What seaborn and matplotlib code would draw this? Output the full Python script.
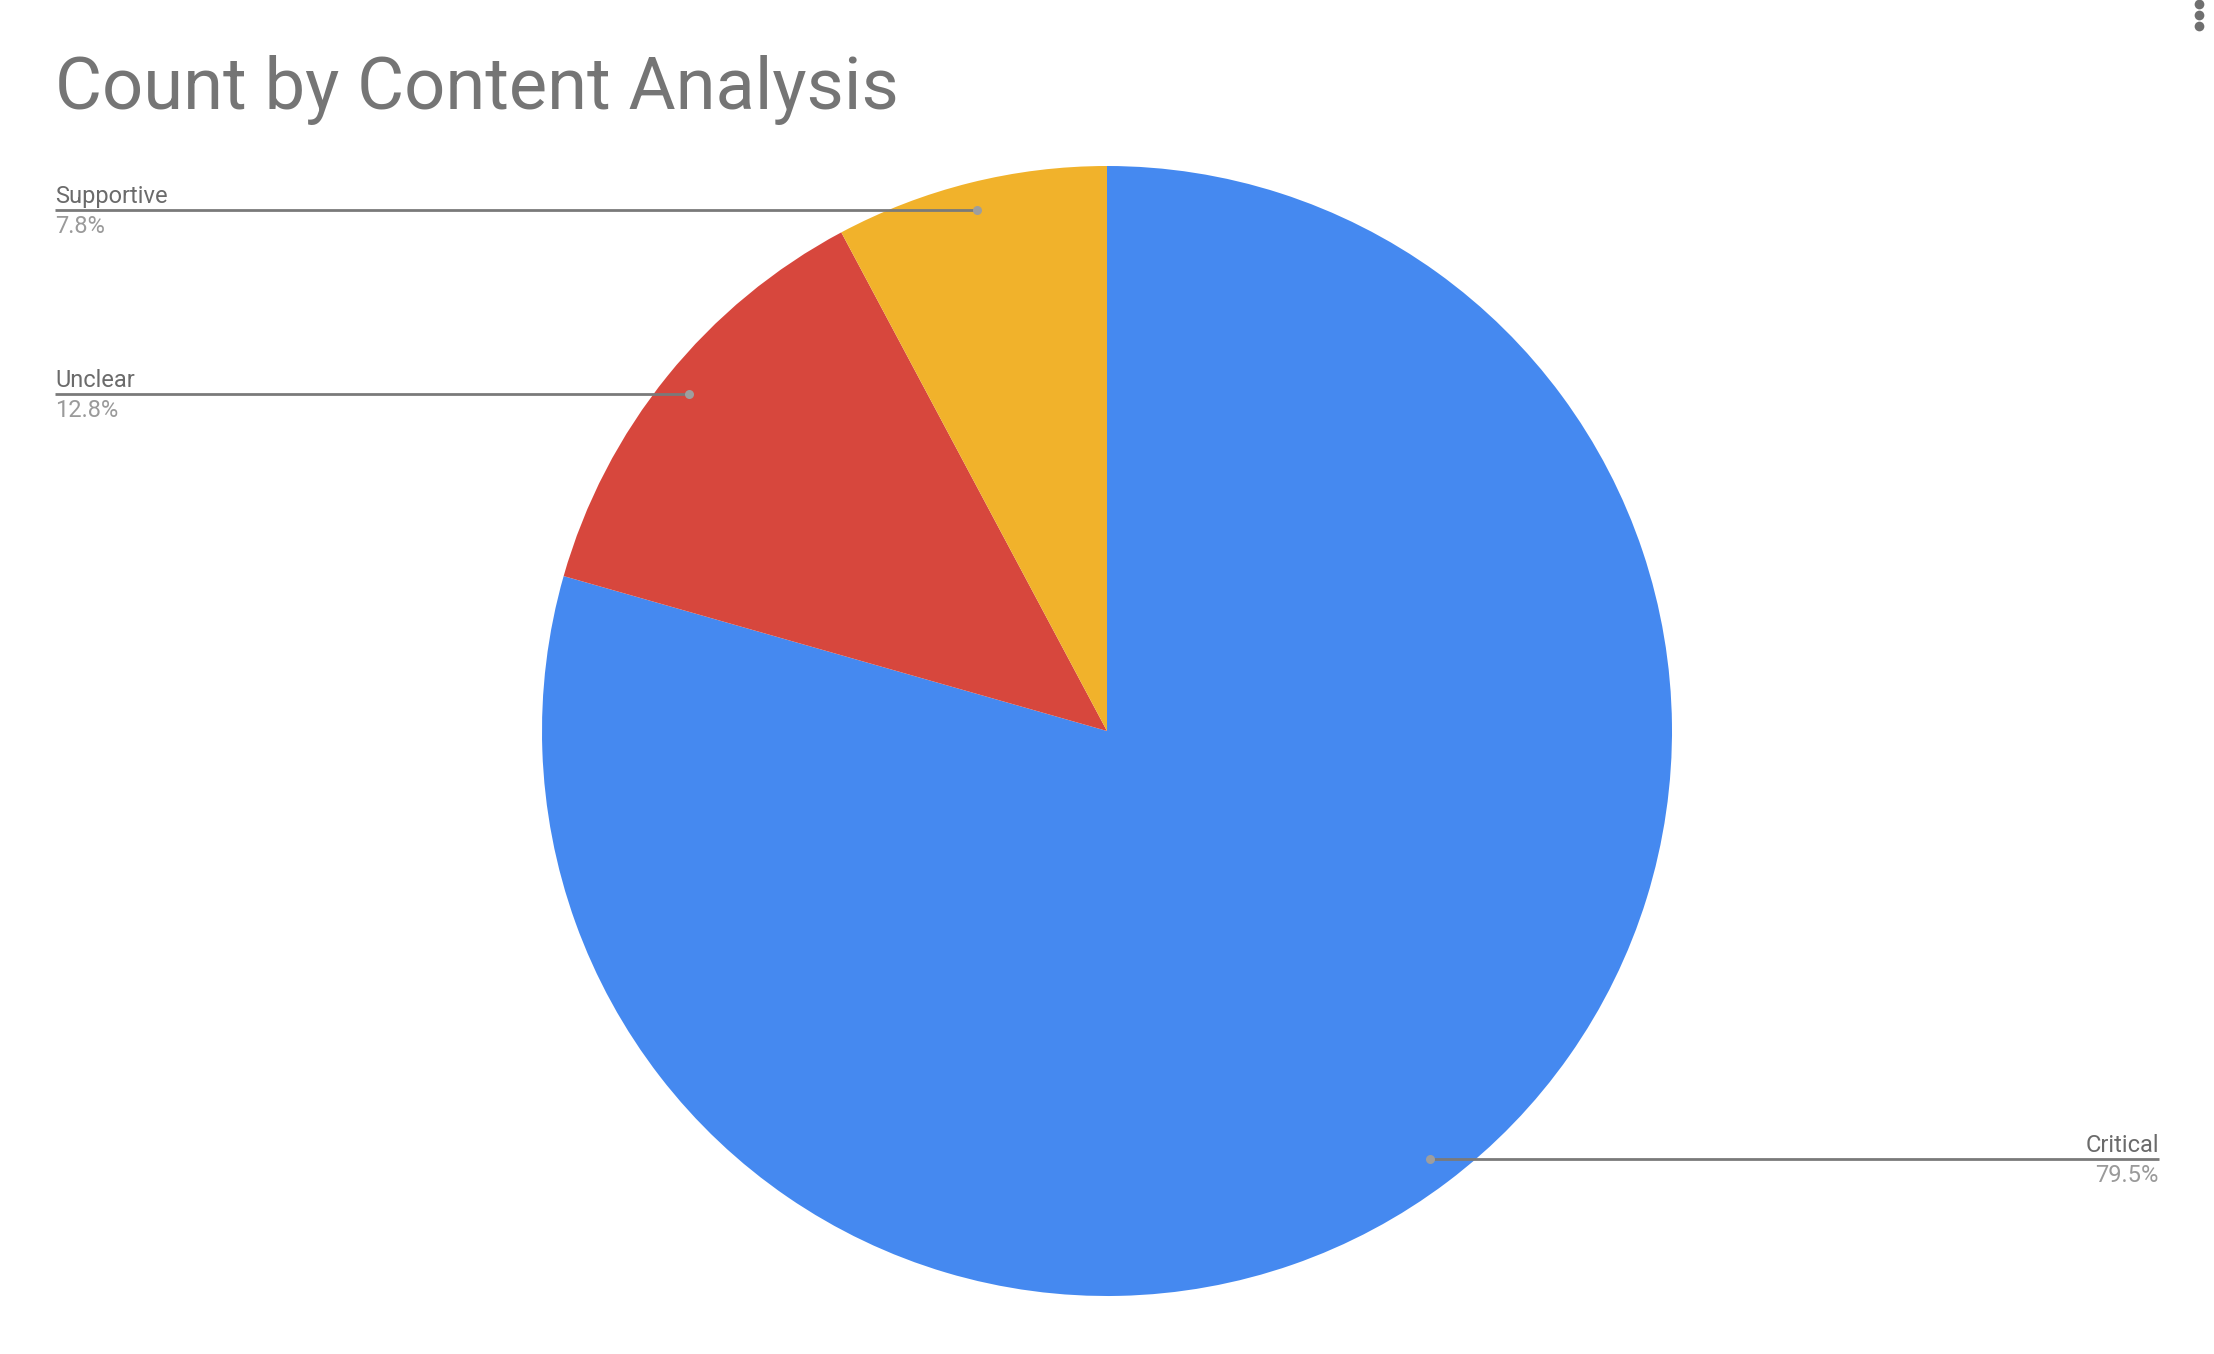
import numpy as np
import pandas as pd
import seaborn as sns
import matplotlib
matplotlib.use("Agg")
import matplotlib.pyplot as plt
from matplotlib.lines import Line2D
from matplotlib.transforms import IdentityTransform

# ---- data ----
categories = ["Critical", "Unclear", "Supportive"]
percentages = [79.5, 12.8, 7.8]
slice_colors = ["#4589F0", "#D7473D", "#F1B22B"]
title = "Count by Content Analysis"

sns.set_theme(style="white")
plt.rcParams['font.family'] = ['Roboto', 'DejaVu Sans']

W, H, dpi = 2214, 1354, 100
fig = plt.figure(figsize=(W / dpi, H / dpi), dpi=dpi)
fig.patch.set_facecolor("white")

cx, cy, r = 1107, H - 731, 565
ax = fig.add_axes([(cx - r) / W, (cy - r) / H, 2 * r / W, 2 * r / H])

df = pd.DataFrame({"category": categories, "pct": percentages})
palette = sns.color_palette(slice_colors)
wedges, _ = ax.pie(df["pct"], colors=palette, startangle=90, counterclock=False,
                   wedgeprops=dict(linewidth=0))
ax.set_xlim(-1, 1)
ax.set_ylim(-1, 1)
ax.axis("off")

left_px, right_px = 55, 2159
line_col = "#7a7a7a"
name_col = "#6b6b6b"
pct_col = "#9a9a9a"

for w, name, p in zip(wedges, df["category"], df["pct"]):
    mid = np.deg2rad((w.theta1 + w.theta2) / 2)
    px, py = ax.transData.transform((0.95 * np.cos(mid), 0.95 * np.sin(mid)))
    if np.cos(mid) < 0:
        ex, ha = left_px, "left"
    else:
        ex, ha = right_px, "right"
    fig.add_artist(Line2D([px, ex], [py, py], transform=IdentityTransform(),
                          color=line_col, lw=2.0, solid_capstyle="butt"))
    fig.add_artist(Line2D([px], [py], transform=IdentityTransform(), marker="o",
                          ms=6.5, color="#9e9e9e", mec="none", lw=0))
    fig.text(ex / W, (py + 7) / H, name, ha=ha, va="baseline", fontsize=17,
             color=name_col)
    fig.text(ex / W, (py - 5) / H, f"{p:.1f}%", ha=ha, va="top", fontsize=17,
             color=pct_col)

fig.text(55 / W, 1 - 109 / H, title, ha="left", va="baseline", fontsize=52,
         color="#757575")

# menu dots at top-right
fig.add_artist(Line2D([2199, 2199, 2199], [H - 4, H - 15, H - 26],
                      transform=IdentityTransform(), marker="o", ms=7,
                      color="#6f6f6f", mec="none", lw=0))

fig.savefig("out.png", dpi=dpi, facecolor="white")
